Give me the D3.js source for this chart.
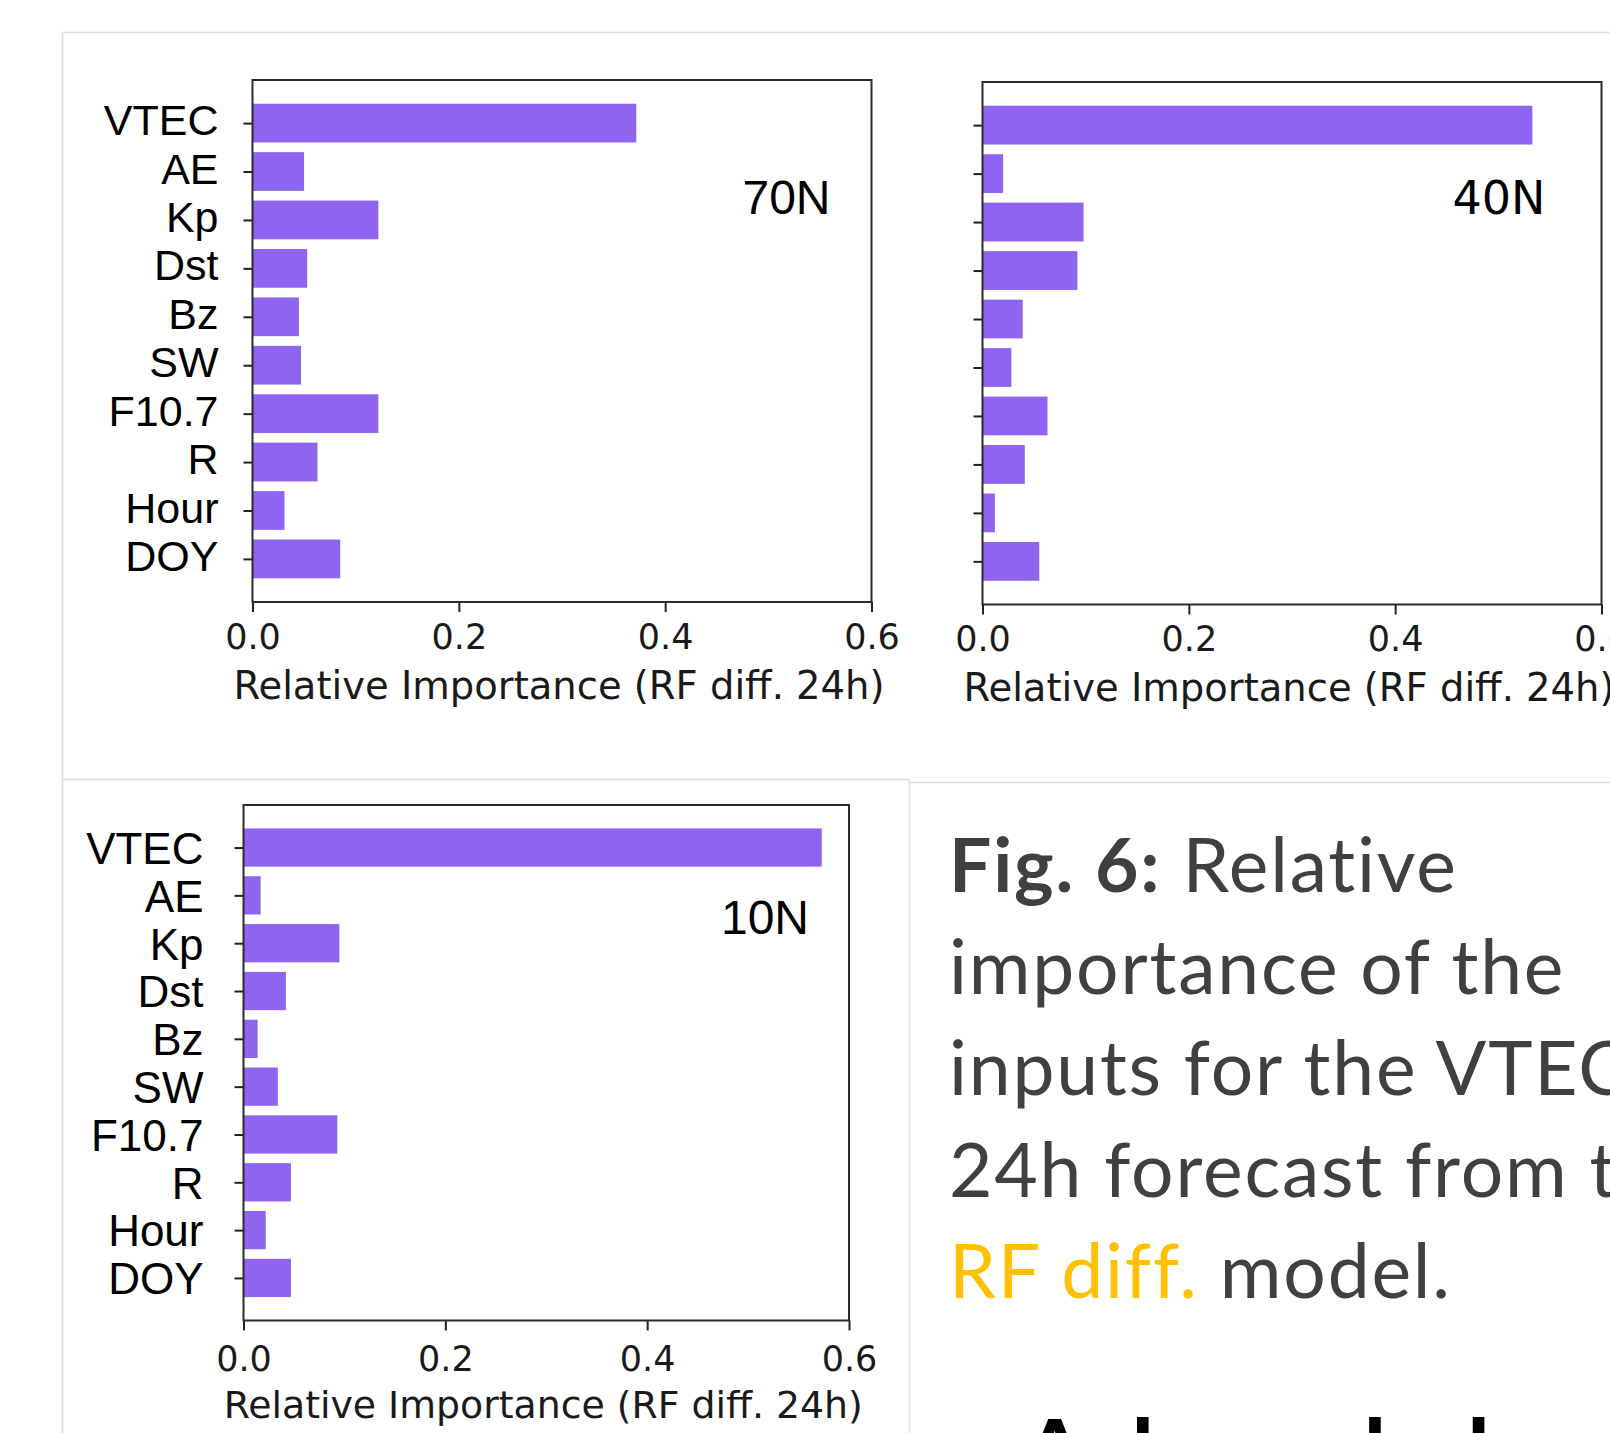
<!DOCTYPE html>
<html>
<head>
<meta charset="utf-8">
<script src="https://cdn.jsdelivr.net/npm/d3@7"></script>
<style>
  html, body { margin: 0; padding: 0; background: #fff; overflow: hidden; }
</style>
</head>
<body>
<div id="chart"></div>
<script>
// feature names, top to bottom
const features = ["VTEC", "AE", "Kp", "Dst", "Bz", "SW", "F10.7", "R", "Hour", "DOY"];

// relative importance (RF diff. 24h) per latitude
const imp70N = [0.372, 0.050, 0.122, 0.053, 0.045, 0.047, 0.122, 0.063, 0.031, 0.085];
const imp40N = [0.533, 0.020, 0.098, 0.092, 0.039, 0.028, 0.063, 0.041, 0.012, 0.055];
const imp10N = [0.573, 0.017, 0.095, 0.042, 0.014, 0.034, 0.093, 0.047, 0.022, 0.047];

const xTicks = [0.0, 0.2, 0.4, 0.6];
const xLabel = "Relative Importance (RF diff. 24h)";

const W = 1610, H = 1433;
const barColor = "#8f64f0";

const svg = d3.select("#chart").append("svg")
  .attr("width", W)
  .attr("height", H)
  .style("display", "block");

// light poster panel borders
const border = "#dcdcdc";
const borders = [
  [62.5, 32.5, W, 32.5],
  [62.5, 32.5, 62.5, H],
  [62.5, 779.5, 909.5, 779.5],
  [909.5, 782.5, W, 782.5],
  [909.5, 779.5, 909.5, H]
];
svg.selectAll("line.border").data(borders).join("line")
  .attr("class", "border")
  .attr("x1", d => d[0]).attr("y1", d => d[1])
  .attr("x2", d => d[2]).attr("y2", d => d[3])
  .attr("stroke", border).attr("stroke-width", 1.5);

//draw one matplotlib-like barh panel
const drawPanel = (p) => {
  const x = d3.scaleLinear().domain([0, 0.6]).range([p.left, p.right]);
  const y = d3.scaleLinear().domain([-0.89, features.length - 1 + 0.89]).range([p.top, p.bottom]);

  const g = svg.append("g");

  g.selectAll("rect.bar").data(p.values).join("rect")
    .attr("class", "bar")
    .attr("x", x(0))
    .attr("y", (d, i) => y(i - 0.4))
    .attr("width", d => x(d) - x(0))
    .attr("height", y(0.8) - y(0))
    .attr("fill", barColor);

  // y axis
  const yAxis = g.append("g")
    .attr("transform", `translate(${p.left},0)`)
    .call(d3.axisLeft(y)
      .tickValues(d3.range(features.length))
      .tickSize(9)
      .tickPadding(p.yPad)
      .tickFormat(i => p.showLabels ? features[i] : ""));
  yAxis.select(".domain").remove();
  yAxis.selectAll(".tick line").attr("stroke", "#222").attr("stroke-width", 2);
  yAxis.selectAll(".tick text")
    .attr("fill", "#000")
    .attr("dy", p.yDy)
    .style("font-family", "'Liberation Sans', Arial, sans-serif")
    .style("font-size", p.yFont + "px");

  // x axis
  const xAxis = g.append("g")
    .attr("transform", `translate(0,${p.bottom})`)
    .call(d3.axisBottom(x)
      .tickValues(xTicks)
      .tickSize(10)
      .tickFormat(d3.format(".1f")));
  xAxis.select(".domain").remove();
  xAxis.selectAll(".tick line").attr("stroke", "#222").attr("stroke-width", 2);
  xAxis.selectAll(".tick text")
    .attr("fill", "#1a1a1a")
    .attr("y", p.xTickBase)
    .attr("dy", 0)
    .style("font-family", "'DejaVu Sans', sans-serif")
    .style("font-size", "35px");

  // frame
  g.append("rect")
    .attr("x", p.left).attr("y", p.top)
    .attr("width", p.right - p.left)
    .attr("height", p.bottom - p.top)
    .attr("fill", "none")
    .attr("stroke", "#2b2b2b")
    .attr("stroke-width", 2);

  g.append("text")
    .attr("x", (p.left + p.right) / 2 - 3)
    .attr("y", p.bottom + p.xLabelBase)
    .attr("text-anchor", "middle")
    .attr("fill", "#1a1a1a")
    .style("font-family", "'DejaVu Sans', sans-serif")
    .style("font-size", p.xLabelSize + "px")
    .text(xLabel);

  // latitude tag
  g.append("text")
    .attr("x", p.right - p.tagInset)
    .attr("y", p.tagBase)
    .attr("text-anchor", "end")
    .attr("fill", "#000")
    .style("font-family", p.tagFont)
    .style("font-size", p.tagSize + "px")
    .text(p.tag);
};

drawPanel({
  values: imp70N, tag: "70N",
  left: 252.5, right: 871.5, top: 80, bottom: 602,
  showLabels: true, yPad: 25, yFont: 43, yDy: "0.27em",
  xTickBase: 47, xLabelBase: 97, xLabelSize: 38.5,
  tagInset: 41, tagBase: 214, tagFont: "'Liberation Sans', Arial, sans-serif", tagSize: 48
});

drawPanel({
  values: imp40N, tag: "40N",
  left: 982.5, right: 1601.5, top: 82, bottom: 604.5,
  showLabels: false, yPad: 25, yFont: 43, yDy: "0.27em",
  xTickBase: 46, xLabelBase: 96, xLabelSize: 38.5,
  tagInset: 56, tagBase: 214, tagFont: "'DejaVu Sans', sans-serif", tagSize: 46
});

drawPanel({
  values: imp10N, tag: "10N",
  left: 243.5, right: 849, top: 805, bottom: 1320.5,
  showLabels: true, yPad: 31, yFont: 44, yDy: "0.36em",
  xTickBase: 50, xLabelBase: 97, xLabelSize: 37.8,
  tagInset: 40, tagBase: 934, tagFont: "'Liberation Sans', Arial, sans-serif", tagSize: 48
});

// figure caption
const capFont = "Lato, 'Open Sans', sans-serif";
const capLines = [
  [{t: "Fig. 6:", b: true}, {t: " Relative"}],
  [{t: "importance of the"}],
  [{t: "inputs for the VTEC"}],
  [{t: "24h forecast from the"}],
  [{t: "RF diff.", c: "#ffc000"}, {t: " model."}]
];
const cap = svg.append("text")
  .attr("fill", "#404040")
  .style("font-family", capFont)
  .style("font-size", "75px")
  .style("letter-spacing", "1.8px");
capLines.forEach((line, i) => {
  line.forEach((seg, j) => {
    const ts = cap.append("tspan")
      .text(seg.t)
      .style("font-weight", seg.b ? 700 : 400)
      .attr("fill", seg.c || "#404040");
    if (j === 0) ts.attr("x", 949).attr("y", 892 + i * 101.5);
  });
});

svg.append("text")
  .attr("x", 1022)
  .attr("y", 1487)
  .attr("fill", "#000")
  .style("font-family", capFont)
  .style("font-weight", 700)
  .style("font-size", "94px")
  .text("Acknowledgements");
</script>
</body>
</html>
